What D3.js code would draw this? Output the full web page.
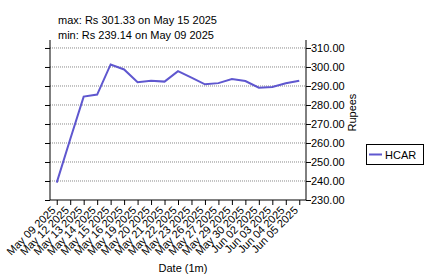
<!DOCTYPE html>
<html lang="en">
<head>
<meta charset="UTF-8">
<title>HCAR price</title>
<script src="https://d3js.org/d3.v7.min.js"></script>
<style>
  body { margin: 0; background: #fff; }
  svg { display: block; font-family: "Liberation Sans", Arial, sans-serif; }
</style>
</head>
<body>
<div id="chart"></div>
<script>
// dates shown on the x axis (1m range)
const dates = ["May 09 2025", "May 12 2025", "May 13 2025", "May 14 2025", "May 15 2025",
  "May 16 2025", "May 19 2025", "May 20 2025", "May 21 2025", "May 22 2025", "May 23 2025",
  "May 26 2025", "May 27 2025", "May 29 2025", "May 30 2025", "Jun 02 2025", "Jun 03 2025",
  "Jun 04 2025", "Jun 05 2025"];
// closing price in Rupees
const prices = [239.14, 262.0, 284.4, 285.5, 301.33, 298.7, 292.0, 292.8, 292.3, 297.8,
  294.4, 290.9, 291.5, 293.7, 292.6, 289.1, 289.5, 291.4, 292.8];
const yTicks = [230, 240, 250, 260, 270, 280, 290, 300, 310];
const seriesName = "HCAR";

const W = 426, H = 276;
const margin = {top: 40, right: 120, bottom: 76, left: 50};
const width = W - margin.left - margin.right,
      height = H - margin.top - margin.bottom;

const svg = d3.select("#chart").append("svg")
    .attr("width", W)
    .attr("height", H);

const g = svg.append("g").attr("transform", `translate(${margin.left},${margin.top})`);

const x = d3.scalePoint().domain(dates).range([0, width]).padding(0.5);
const y = d3.scaleLinear().domain([230, 314.2]).range([height, 0]);

// max / min annotation
const maxI = d3.maxIndex(prices), minI = d3.minIndex(prices);
svg.append("text").attr("x", 58).attr("y", 24).style("font-size", "11px")
    .text(`max: Rs ${prices[maxI].toFixed(2)} on ${dates[maxI]}`);
svg.append("text").attr("x", 58).attr("y", 39).style("font-size", "11px")
    .text(`min: Rs ${prices[minI].toFixed(2)} on ${dates[minI]}`);

// gridlines
g.selectAll(".grid").data(yTicks.slice(1)).enter().append("line")
    .attr("x1", 0).attr("x2", width)
    .attr("y1", d => y(d)).attr("y2", d => y(d))
    .attr("stroke", "#888").attr("stroke-width", 1)
    .attr("stroke-dasharray", "1,1");

// left axis (ticks only)
g.append("g")
    .call(d3.axisLeft(y).tickValues(yTicks).tickFormat("").tickSize(5).tickSizeOuter(0))
    .call(a => a.select(".domain").attr("d", `M0,0V${height}`));

// right axis with labels
const yAxis = g.append("g")
    .attr("transform", `translate(${width},0)`)
    .call(d3.axisRight(y).tickValues(yTicks).tickFormat(d3.format(".2f")).tickSize(5).tickSizeOuter(0))
    .call(a => a.select(".domain").attr("d", `M0,0V${height}`));
yAxis.selectAll("text").style("font-size", "11px").attr("x", 5).attr("fill", "#000");

yAxis.append("text")
    .attr("transform", "rotate(-90)")
    .attr("x", -y(276))
    .attr("y", 50)
    .attr("text-anchor", "middle")
    .attr("fill", "#000")
    .style("font-size", "11px")
    .text("Rupees");

// bottom axis
const xAxis = g.append("g")
    .attr("transform", `translate(0,${height})`)
    .call(d3.axisBottom(x).tickSize(5).tickSizeOuter(0));
xAxis.select(".domain").attr("d", `M0,0H${width}`);
xAxis.selectAll("text")
    .style("font-size", "11px")
    .attr("text-anchor", "end")
    .attr("dy", 0)
    .attr("y", 0)
    .attr("transform", "translate(-1,11) rotate(-45)");

svg.append("text")
    .attr("x", 183).attr("y", 272)
    .attr("text-anchor", "middle")
    .style("font-size", "11px")
    .text("Date (1m)");

// price line
const line = d3.line()
    .x((d, i) => x(dates[i]))
    .y(d => y(d));
g.append("path")
    .datum(prices)
    .attr("fill", "none")
    .attr("stroke", "#5f57cf")
    .attr("stroke-width", 2)
    .attr("d", line);

// legend
const lg = svg.append("g").attr("transform", "translate(366,144)");
lg.append("rect").attr("x", 0.5).attr("y", 0.5).attr("width", 57).attr("height", 20)
    .attr("fill", "#fff").attr("stroke", "#000");
lg.append("line").attr("x1", 3).attr("x2", 16).attr("y1", 10.5).attr("y2", 10.5)
    .attr("stroke", "#5f57cf").attr("stroke-width", 2);
lg.append("text").attr("x", 19).attr("y", 14.5).style("font-size", "11px").text(seriesName);
</script>
</body>
</html>
